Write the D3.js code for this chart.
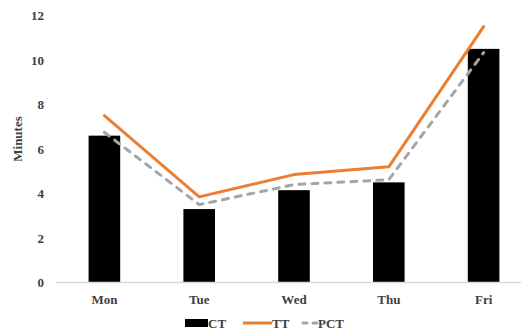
<!DOCTYPE html>
<html>
<head>
<meta charset="utf-8">
<script src="https://cdn.jsdelivr.net/npm/d3@7/dist/d3.min.js"></script>
<style>
  html, body { margin: 0; padding: 0; background: #fff; }
  svg { display: block; }
  svg text { font-family: "Times New Roman", "Liberation Serif", Tinos, "DejaVu Serif", serif !important; font-weight: bold; fill: #404040; }
</style>
</head>
<body>
<svg id="chart" width="521" height="335"></svg>
<script>
// Daily minutes per measure
const days = ["Mon", "Tue", "Wed", "Thu", "Fri"];
const ctValues = [6.6, 3.3, 4.15, 4.5, 10.5];
const ttValues = [7.5, 3.85, 4.85, 5.2, 11.5];
const pctValues = [6.75, 3.5, 4.4, 4.62, 10.33];
const yTicks = [0, 2, 4, 6, 8, 10, 12];
const seriesNames = ["CT", "TT", "PCT"];

const svg = d3.select("#chart");

const x = d3.scaleBand().domain(days).range([57, 531]).paddingInner(0).paddingOuter(0);
const y = d3.scaleLinear().domain([0, 12]).range([282.5, 15.5]);

// y-axis tick labels (no axis line, no ticks)
const yAxis = d3.axisLeft(y).tickValues(yTicks).tickSize(0).tickPadding(0);
const yg = svg.append("g").attr("transform", "translate(44,0)").call(yAxis);
yg.attr("font-family", null);
yg.select(".domain").remove();
yg.selectAll("text").attr("font-size", 13);

// y-axis title
svg.append("text")
  .attr("transform", "translate(22,139) rotate(-90)")
  .attr("text-anchor", "middle")
  .attr("font-size", 13)
  .text("Minutes");

// bars
const barW = x.step() / 3;
svg.append("g").selectAll("rect")
  .data(days)
  .join("rect")
  .attr("x", (d) => x(d) + x.bandwidth() / 2 - barW / 2)
  .attr("y", (d, i) => y(ctValues[i]))
  .attr("width", barW)
  .attr("height", (d, i) => y(0) - y(ctValues[i]))
  .attr("fill", "#000");

// x-axis baseline and labels
const xAxis = d3.axisBottom(x).tickSize(0).tickPadding(12);
const xg = svg.append("g").attr("transform", `translate(0,${y(0)})`).call(xAxis);
xg.attr("font-family", null);
xg.select(".domain").remove();
xg.selectAll("text").attr("font-size", 13);
svg.append("line")
  .attr("x1", 56).attr("x2", 521)
  .attr("y1", y(0)).attr("y2", y(0))
  .attr("stroke", "#d9d9d9").attr("stroke-width", 1.5);

const cx = (d) => x(d) + x.bandwidth() / 2;
const line = d3.line().x((d) => cx(d[0])).y((d) => y(d[1]));

// PCT dashed line
svg.append("path")
  .datum(days.map((d, i) => [d, pctValues[i]]))
  .attr("d", line)
  .attr("fill", "none")
  .attr("stroke", "#a5a5a5")
  .attr("stroke-width", 3)
  .attr("stroke-linecap", "round")
  .attr("stroke-dasharray", "6,7");

// TT solid line
svg.append("path")
  .datum(days.map((d, i) => [d, ttValues[i]]))
  .attr("d", line)
  .attr("fill", "none")
  .attr("stroke", "#ed7d31")
  .attr("stroke-width", 3)
  .attr("stroke-linejoin", "round")
  .attr("stroke-linecap", "round");

// legend
const leg = svg.append("g");
leg.append("rect").attr("x", 185).attr("y", 319).attr("width", 23).attr("height", 8).attr("fill", "#000");
leg.append("text").attr("x", 208).attr("y", 328).attr("font-size", 13).text(seriesNames[0]);
leg.append("line").attr("x1", 243).attr("x2", 272).attr("y1", 323).attr("y2", 323)
  .attr("stroke", "#ed7d31").attr("stroke-width", 3);
leg.append("text").attr("x", 272).attr("y", 328).attr("font-size", 13).text(seriesNames[1]);
leg.append("line").attr("x1", 303).attr("x2", 317).attr("y1", 323).attr("y2", 323)
  .attr("stroke", "#a5a5a5").attr("stroke-width", 3).attr("stroke-linecap", "round")
  .attr("stroke-dasharray", "4,6");
leg.append("text").attr("x", 318).attr("y", 328).attr("font-size", 13).text(seriesNames[2]);
</script>
</body>
</html>
